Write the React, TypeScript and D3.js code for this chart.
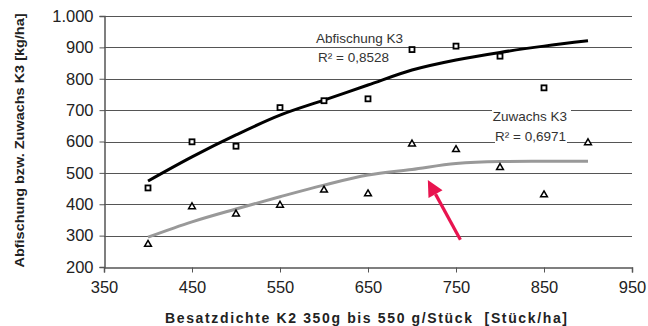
import React, { useEffect, useRef } from "react";
import * as d3 from "d3";

// Besatzdichte K2 [Stück/ha]
const densities = [400, 450, 500, 550, 600, 650, 700, 750, 800, 850, 900];
// Abfischung K3 (squares), no value at 900
const abfischung = [452, 599, 585, 708, 730, 736, 893, 904, 872, 771];
// Zuwachs K3 (triangles)
const zuwachs = [272, 392, 369, 397, 445, 433, 592, 574, 517, 430, 596];
// trend lines
const abfischungTrend = [474, 551, 621, 684, 732, 780, 828, 860, 884, 904, 921];
const zuwachsTrend = [295, 344, 385, 424, 461, 493, 511, 530, 536, 537, 537];
const xTicks = [350, 450, 550, 650, 750, 850, 950];
const yTicks = [200, 300, 400, 500, 600, 700, 800, 900, 1000];
// red arrow, tail -> tip in data units
const arrowPts = [[755, 287], [718, 477]];

const width = 648;
const height = 326;
const marginTop = 16;
const marginRight = 16;
const marginBottom = 59;
const marginLeft = 104;
const font = "Liberation Sans, Arial, sans-serif";

export default function App() {
  const ref = useRef<SVGSVGElement>(null);

  useEffect(() => {
    const svg = d3.select(ref.current);
    svg.selectAll("*").remove();

    const x = d3.scaleLinear().domain([350, 950]).range([marginLeft, width - marginRight]);
    const y = d3.scaleLinear().domain([200, 1000]).range([height - marginBottom, marginTop]);

    // gridlines
    svg.append("g")
      .selectAll("line")
      .data(yTicks.slice(1))
      .join("line")
      .attr("x1", marginLeft)
      .attr("x2", width - marginRight)
      .attr("y1", d => Math.round(y(d)) + 0.5)
      .attr("y2", d => Math.round(y(d)) + 0.5)
      .attr("stroke", "#555")
      .attr("stroke-width", 1.1);

    // y axis
    svg.append("g")
      .attr("transform", `translate(${marginLeft + 0.5},0)`)
      .call(d3.axisLeft(y).tickValues(yTicks).tickSize(5).tickPadding(6)
        .tickFormat(d => (d === 1000 ? "1.000" : String(d))))
      .call(g => g.select(".domain").attr("stroke", "#555").attr("stroke-width", 1.5))
      .call(g => g.selectAll(".tick line").attr("stroke", "#555"))
      .call(g => g.selectAll("text")
        .attr("font-family", font).attr("font-size", 16.5).attr("fill", "#222"));

    // x axis
    svg.append("g")
      .attr("transform", `translate(0,${Math.round(y(200)) + 0.5})`)
      .call(d3.axisBottom(x).tickValues(xTicks).tickSize(5).tickPadding(9).tickSizeOuter(5))
      .call(g => g.select(".domain").attr("stroke", "#555").attr("stroke-width", 1.5))
      .call(g => g.selectAll(".tick line").attr("stroke", "#555"))
      .call(g => g.selectAll("text")
        .attr("font-family", font).attr("font-size", 16.5).attr("fill", "#222"));

    // series labels with white boxes
    const labels = [
      { text: "Abfischung K3", x: 316, y: 43, anchor: "start", box: [310, 30, 97, 15] },
      { text: "R² = 0,8528", x: 318, y: 62, anchor: "start", box: [310, 48, 80, 17] },
      { text: "Zuwachs K3", x: 567, y: 121, anchor: "end", box: [492, 108, 79, 16] },
      { text: "R² = 0,6971", x: 566, y: 141, anchor: "end", box: [495, 128, 72, 17] },
    ];
    svg.append("g")
      .selectAll("rect")
      .data(labels)
      .join("rect")
      .attr("x", d => d.box[0]).attr("y", d => d.box[1])
      .attr("width", d => d.box[2]).attr("height", d => d.box[3])
      .attr("fill", "#fff");
    svg.append("g")
      .selectAll("text")
      .data(labels)
      .join("text")
      .attr("x", d => d.x).attr("y", d => d.y)
      .attr("text-anchor", d => d.anchor)
      .attr("font-family", font).attr("font-size", 13.5).attr("fill", "#333")
      .text(d => d.text);

    const line = d3.line<number>()
      .x((d, i) => x(densities[i]))
      .y(d => y(d))
      .curve(d3.curveMonotoneX);

    svg.append("path")
      .attr("fill", "none").attr("stroke", "#999").attr("stroke-width", 3)
      .attr("d", line(zuwachsTrend));
    svg.append("path")
      .attr("fill", "none").attr("stroke", "#000").attr("stroke-width", 3)
      .attr("d", line(abfischungTrend));

    // squares
    svg.append("g")
      .selectAll("rect")
      .data(abfischung)
      .join("rect")
      .attr("x", (d, i) => x(densities[i]) - 2.5)
      .attr("y", d => y(d) - 2.5)
      .attr("width", 5).attr("height", 5)
      .attr("fill", "#fff").attr("stroke", "#000").attr("stroke-width", 1.8);

    // triangles
    const tri = d3.symbol(d3.symbolTriangle, 20);
    svg.append("g")
      .selectAll("path")
      .data(zuwachs)
      .join("path")
      .attr("transform", (d, i) => `translate(${x(densities[i])},${y(d)})`)
      .attr("d", tri())
      .attr("fill", "#fff").attr("stroke", "#000").attr("stroke-width", 1.5);

    // red arrow
    const [t0, t1] = arrowPts;
    const x0 = x(t0[0]), y0 = y(t0[1]), x1 = x(t1[0]), y1 = y(t1[1]);
    const ang = Math.atan2(y1 - y0, x1 - x0);
    const headLen = 16, headW = 8;
    const bx = x1 - headLen * Math.cos(ang), by = y1 - headLen * Math.sin(ang);
    svg.append("line")
      .attr("x1", x0).attr("y1", y0).attr("x2", bx).attr("y2", by)
      .attr("stroke", "#e8144f").attr("stroke-width", 3.2);
    svg.append("path")
      .attr("d", d3.line()([
        [x1, y1],
        [bx + headW * Math.sin(ang), by - headW * Math.cos(ang)],
        [bx - headW * Math.sin(ang), by + headW * Math.cos(ang)],
      ]) + "Z")
      .attr("fill", "#e8144f");

    // axis titles
    svg.append("text")
      .attr("transform", `translate(24,${(marginTop + height - marginBottom) / 2 - 1}) rotate(-90)`)
      .attr("text-anchor", "middle")
      .attr("font-family", font).attr("font-size", 13.5).attr("font-weight", "bold").attr("fill", "#222")
      .attr("textLength", 254).attr("lengthAdjust", "spacingAndGlyphs")
      .text("Abfischung bzw. Zuwachs K3 [kg/ha]");
    svg.append("text")
      .attr("x", 366).attr("y", 323)
      .attr("text-anchor", "middle")
      .attr("font-family", font).attr("font-size", 14).attr("font-weight", "bold").attr("fill", "#222")
      .attr("textLength", 402).attr("lengthAdjust", "spacing")
      .attr("xml:space", "preserve")
      .text("Besatzdichte K2 350g bis 550 g/Stück  [Stück/ha]");
  }, []);

  return (
    <svg ref={ref} width={width} height={height}
      style={{ position: "absolute", left: 0, top: 0, background: "#fff" }} />
  );
}
